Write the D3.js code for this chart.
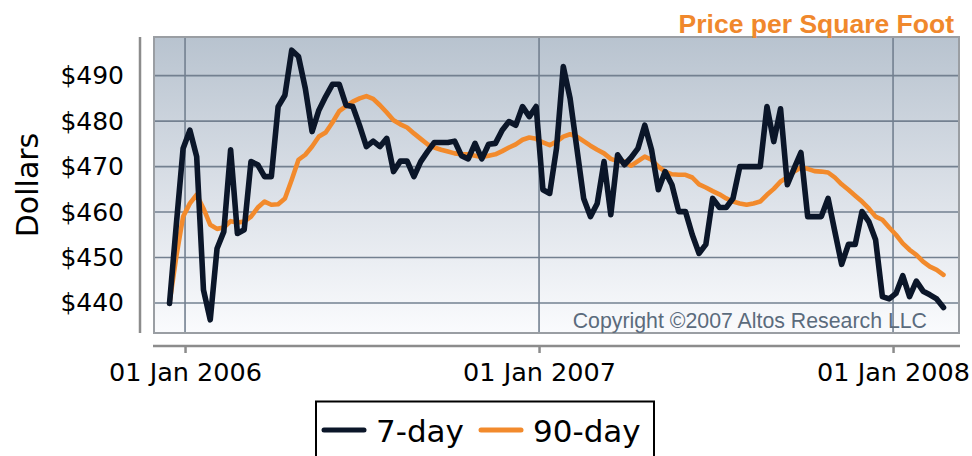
<!DOCTYPE html>
<html>
<head>
<meta charset="utf-8">
<script src="https://cdn.jsdelivr.net/npm/d3@7"></script>
<style>
  body { margin: 0; background: #fff; }
  svg { display: block; }
  .tick text { font-family: "DejaVu Sans", sans-serif; fill: #000; }
</style>
</head>
<body>
<div id="chart"></div>
<script>
// weekly readings, first week ending 16 Dec 2005
const startDate = "2005-12-16"
const seriesNames = ["7-day", "90-day"]
const sevenDay = [
  439.9, 457.2, 474.0, 478.0, 472.2, 442.9, 436.3, 452.0, 455.7, 473.7,
  455.3, 456.1, 471.1, 470.4, 467.8, 467.8, 483.2, 485.7, 495.6, 494.2,
  487.2, 477.7, 482.4, 485.4, 488.1, 488.1, 483.5, 483.2, 479.0, 474.4,
  475.6, 474.4, 476.2, 468.9, 471.2, 471.2, 467.8, 471.1, 473.3, 475.3,
  475.3, 475.3, 475.6, 472.4, 471.7, 475.1, 471.7, 474.9, 475.1, 478.0,
  479.9, 479.1, 483.2, 481.0, 483.2, 464.9, 464.1, 474.0, 492.0, 485.0,
  474.0, 463.0, 459.0, 461.9, 471.1, 459.4, 472.6, 470.4, 472.0, 474.0,
  479.1, 473.7, 464.9, 468.9, 466.0, 460.1, 460.1, 455.0, 450.9, 452.9,
  463.0, 461.0, 461.0, 463.0, 470.0, 470.0, 470.0, 470.0, 483.2, 475.5,
  482.7, 466.0, 469.6, 473.1, 459.0, 459.0, 459.0, 463.0, 455.7, 448.5,
  452.9, 452.9, 460.1, 457.9, 453.9, 441.4, 440.9, 442.1, 446.0, 441.4,
  444.8, 442.6, 441.8, 440.9, 439.0
]
const ninetyDay = [
  440.0, 450.2, 459.0, 461.9, 463.8, 460.8, 457.2, 456.3, 456.6, 458.0,
  457.7, 457.9, 459.0, 461.0, 462.3, 461.6, 461.7, 463.0, 467.1, 471.5,
  472.6, 474.4, 476.6, 477.5, 479.7, 482.2, 483.3, 484.3, 485.0, 485.5,
  484.9, 483.5, 481.9, 480.2, 479.3, 478.6, 477.3, 476.1, 474.9, 474.2,
  473.7, 473.3, 472.9, 472.7, 472.7, 472.4, 472.1, 472.4, 472.7, 473.4,
  474.2, 474.9, 475.9, 476.4, 476.1, 475.3, 474.7, 475.5, 476.6, 477.1,
  476.6, 475.6, 474.6, 473.7, 472.9, 471.7, 471.2, 471.1, 470.2, 471.2,
  472.2, 471.5, 470.0, 468.9, 468.3, 468.2, 468.2, 467.6, 466.1, 465.4,
  464.6, 463.9, 463.0, 462.3, 461.9, 461.6, 461.9, 462.3, 463.8, 465.1,
  466.7, 467.6, 468.9, 469.8, 469.5, 469.0, 468.9, 468.7, 467.6, 466.1,
  464.9, 463.6, 462.3, 460.8, 459.0, 458.3, 456.6, 455.0, 453.1, 451.7,
  450.6, 449.1, 448.0, 447.3, 446.2
]
const yTicks = [440, 450, 460, 470, 480, 490]
const xTicks = ["2006-01-01", "2007-01-01", "2008-01-01"]

const W = 972, H = 456
const plot = { left: 154, right: 959, top: 37, bottom: 333 }

const parse = d3.utcParse("%Y-%m-%d")
const start = parse(startDate)
const weeks = sevenDay.map((v, i) => d3.utcDay.offset(start, 7 * i))

const x = d3.scaleUtc()
  .domain([parse("2005-11-30"), parse("2008-03-09")])
  .range([plot.left, plot.right])
const y = d3.scaleLinear()
  .domain([433.4, 498.5])
  .range([plot.bottom, plot.top])

const svg = d3.select("#chart").append("svg")
  .attr("width", W).attr("height", H)

const defs = svg.append("defs")
const grad = defs.append("linearGradient")
  .attr("id", "bg").attr("x1", 0).attr("y1", 0).attr("x2", 0).attr("y2", 1)
grad.append("stop").attr("offset", "0%").attr("stop-color", "#b8c3cf")
grad.append("stop").attr("offset", "55%").attr("stop-color", "#dde2e9")
grad.append("stop").attr("offset", "100%").attr("stop-color", "#fafbfd")

// plot background
svg.append("rect")
  .attr("x", plot.left).attr("y", plot.top)
  .attr("width", plot.right - plot.left).attr("height", plot.bottom - plot.top)
  .attr("fill", "url(#bg)")

// grid lines
svg.append("g").selectAll("line.h").data(yTicks).join("line")
  .attr("x1", plot.left).attr("x2", plot.right)
  .attr("y1", d => y(d)).attr("y2", d => y(d))
  .attr("stroke", "#738090").attr("stroke-width", 1.6)
svg.append("g").selectAll("line.v").data(xTicks.map(parse)).join("line")
  .attr("x1", d => x(d)).attr("x2", d => x(d))
  .attr("y1", plot.top).attr("y2", plot.bottom)
  .attr("stroke", "#738090").attr("stroke-width", 1.6)

// plot border
svg.append("rect")
  .attr("x", plot.left).attr("y", plot.top)
  .attr("width", plot.right - plot.left).attr("height", plot.bottom - plot.top)
  .attr("fill", "none").attr("stroke", "#9a9ea3").attr("stroke-width", 2)

// copyright
svg.append("text")
  .attr("x", 927).attr("y", 328)
  .attr("text-anchor", "end")
  .style("font-family", "'Liberation Sans', Arial, sans-serif")
  .style("font-size", "21.3px")
  .style("fill", "#5b6b7c")
  .text("Copyright ©2007 Altos Research LLC")

// lines
const line = d3.line().x((d, i) => x(weeks[i])).y(d => y(d))
svg.append("path").datum(ninetyDay)
  .attr("d", line).attr("fill", "none")
  .attr("stroke", "#f28a2c").attr("stroke-width", 4.6)
  .attr("stroke-linejoin", "round").attr("stroke-linecap", "round")
svg.append("path").datum(sevenDay)
  .attr("d", line).attr("fill", "none")
  .attr("stroke", "#0b1629").attr("stroke-width", 5.6)
  .attr("stroke-linejoin", "round").attr("stroke-linecap", "round")

// y axis
const yAxis = svg.append("g")
  .attr("transform", `translate(140,0)`)
  .call(d3.axisLeft(y).tickValues(yTicks).tickSize(0).tickPadding(16).tickFormat(d => "$" + d))
yAxis.select(".domain").remove()
yAxis.selectAll(".tick text").style("font-size", "25px")
svg.append("line")
  .attr("x1", 140).attr("x2", 140).attr("y1", plot.top).attr("y2", plot.bottom)
  .attr("stroke", "#8c8c8c").attr("stroke-width", 2.5)

// x axis
const xAxis = svg.append("g")
  .attr("transform", `translate(0,346)`)
  .call(d3.axisBottom(x).tickValues(xTicks.map(parse)).tickSize(7).tickPadding(10)
    .tickFormat(d3.utcFormat("%d %b %Y")))
xAxis.select(".domain").remove()
xAxis.selectAll(".tick line").attr("stroke", "#8c8c8c").attr("stroke-width", 2.5)
xAxis.selectAll(".tick text").style("font-size", "25.5px")
svg.append("line")
  .attr("x1", 153).attr("x2", 960).attr("y1", 346).attr("y2", 346)
  .attr("stroke", "#8c8c8c").attr("stroke-width", 2.5)

// y title
svg.append("text")
  .attr("transform", "translate(38,185) rotate(-90)")
  .attr("text-anchor", "middle")
  .style("font-family", "'DejaVu Sans', sans-serif")
  .style("font-size", "30px")
  .text("Dollars")

// chart title
svg.append("text")
  .attr("x", 954).attr("y", 33)
  .attr("text-anchor", "end")
  .style("font-family", "'Liberation Sans', Arial, sans-serif")
  .style("font-weight", "bold")
  .style("font-size", "26.5px")
  .style("fill", "#f0882c")
  .text("Price per Square Foot")

// legend
const legend = svg.append("g")
legend.append("rect")
  .attr("x", 316).attr("y", 401.5).attr("width", 338).attr("height", 80)
  .attr("fill", "#fff").attr("stroke", "#000").attr("stroke-width", 2)
const legendColors = ["#0b1629", "#f28a2c"]
const legendX = [324, 481]
seriesNames.forEach((name, i) => {
  legend.append("line")
    .attr("x1", legendX[i]).attr("x2", legendX[i] + 40)
    .attr("y1", 430).attr("y2", 430)
    .attr("stroke", legendColors[i]).attr("stroke-width", 5)
    .attr("stroke-linecap", "round")
  legend.append("text")
    .attr("x", legendX[i] + 52).attr("y", 441.5)
    .style("font-family", "'DejaVu Sans', sans-serif")
    .style("font-size", "31px")
    .text(name)
})
</script>
</body>
</html>
